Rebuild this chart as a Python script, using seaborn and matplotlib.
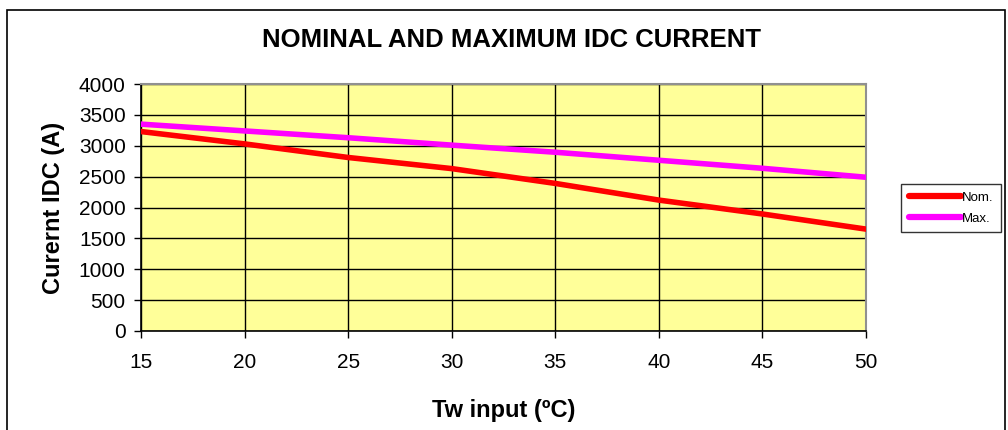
import pandas as pd
import numpy as np
import matplotlib.pyplot as plt
import seaborn as sns
from matplotlib.patches import Rectangle

# Datos
temperaturas = [15, 20, 25, 30, 35, 40, 45, 50]
corriente_nom = [3230, 3030, 2810, 2630, 2390, 2120, 1895, 1650]
corriente_max = [3350, 3240, 3130, 3010, 2895, 2765, 2635, 2490]
series = ['Nom.', 'Max.']
colores = {'Nom.': '#FF0000', 'Max.': '#FF00FF'}

def configurar_estilos():
    """Configura estilos"""
    sns.set_style('white')
    plt.rcParams['font.family'] = ['Liberation Sans', 'DejaVu Sans']
    plt.rcParams['text.color'] = 'black'
    plt.rcParams['axes.labelcolor'] = 'black'
    plt.rcParams['xtick.color'] = 'black'
    plt.rcParams['ytick.color'] = 'black'

def main():
    configurar_estilos()

    df = pd.DataFrame({
        'Tw': temperaturas * 2,
        'IDC': corriente_nom + corriente_max,
        'serie': [series[0]] * len(temperaturas) + [series[1]] * len(temperaturas),
    })

    fig = plt.figure(figsize=(10.08, 4.30), dpi=100)
    ax = fig.add_axes([141 / 1008, 1 - 331 / 430, 725 / 1008, 247 / 430])
    ax.set_facecolor('#FFFF99')

    sns.lineplot(data=df, x='Tw', y='IDC', hue='serie', palette=colores,
                 linewidth=4, ax=ax, legend=False, zorder=3)

    ax.set_xlim(15, 50)
    ax.set_ylim(0, 4000)
    ax.set_xticks(np.arange(15, 51, 5))
    ax.set_yticks(np.arange(0, 4001, 500))
    ax.grid(True, color='black', linewidth=1)
    ax.set_axisbelow(True)
    ax.tick_params(axis='both', labelsize=15, direction='out', length=5,
                   width=1, color='black', left=True, bottom=True)
    ax.tick_params(axis='y', pad=6)
    ax.tick_params(axis='x', pad=11)

    for lado in ['left', 'bottom']:
        ax.spines[lado].set_color('black')
        ax.spines[lado].set_linewidth(1.2)
    for lado in ['top', 'right']:
        ax.spines[lado].set_color('#909090')
        ax.spines[lado].set_linewidth(1.5)

    ax.set_xlabel('Tw input (ºC)', fontsize=17, fontweight='bold', labelpad=19)
    ax.set_ylabel('Curernt IDC (A)', fontsize=17, fontweight='bold', labelpad=10)

    fig.text(511 / 1008, 1 - 40 / 430, 'NOMINAL AND MAXIMUM IDC CURRENT',
             ha='center', va='center', fontsize=18.5, fontweight='bold')

    # Leyenda
    handles = [plt.Line2D([], [], color=colores[s], linewidth=4.5) for s in series]
    leg = fig.legend(handles, series, loc='center', bbox_to_anchor=(951 / 1008, 1 - 208 / 430),
                     fontsize=9.5, frameon=True, fancybox=False, handlelength=4.0,
                     handletextpad=0.05, borderpad=0.55, labelspacing=0.65,
                     borderaxespad=0, handleheight=0.7)
    leg.get_frame().set_edgecolor('black')
    leg.get_frame().set_linewidth(1)

    # Marco exterior
    fig.patches.append(Rectangle((7 / 1008, -0.1), 998 / 1008, 1.1 - 10 / 430,
                                 transform=fig.transFigure, fill=False,
                                 edgecolor='black', linewidth=1.2))

    plt.savefig('out.png', dpi=100)

if __name__ == "__main__":
    main()
